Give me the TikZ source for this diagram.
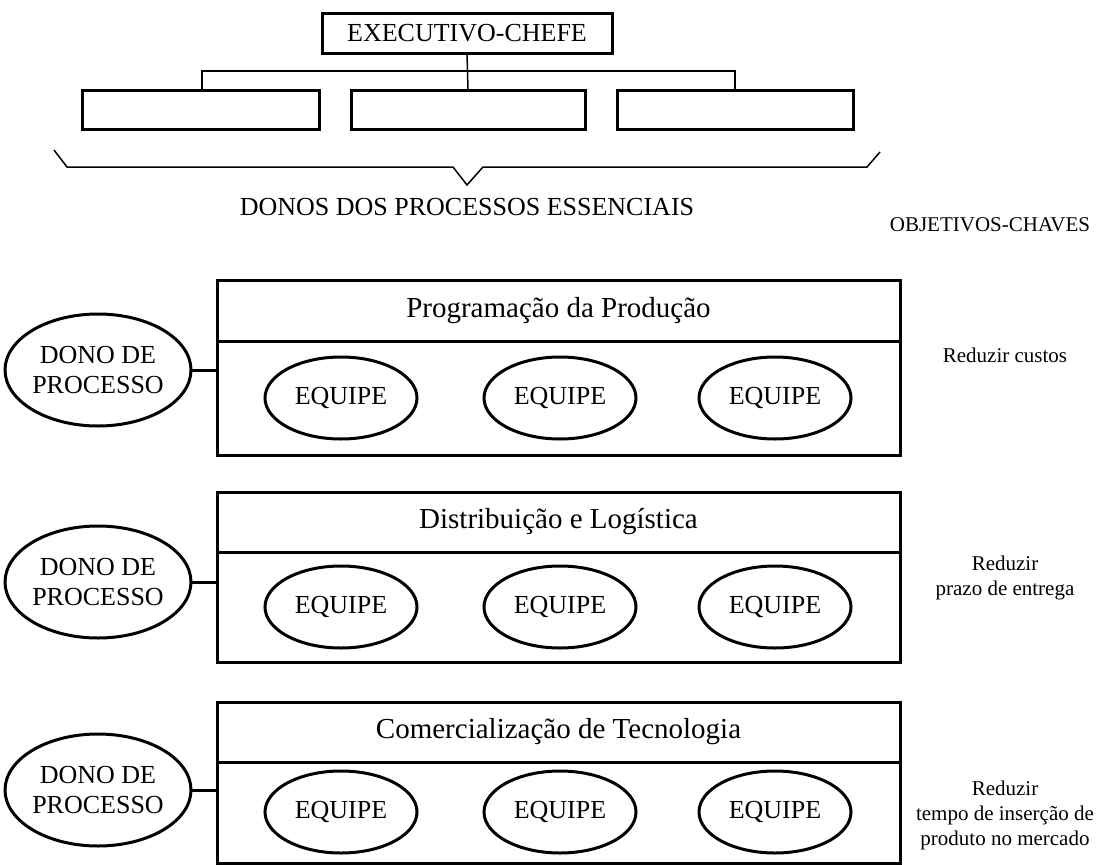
\documentclass[tikz,border=0pt]{standalone}
\usepackage{fontspec}
\setmainfont{Liberation Serif}
\usetikzlibrary{shapes.geometric}
\begin{document}
\begin{tikzpicture}[x=1pt,y=-1pt,
  orgbox/.style={draw,rectangle,line width=3pt,inner sep=0pt,outer sep=0pt,anchor=north west,font=\fontsize{26}{30}\selectfont},
  secbox/.style={draw,rectangle,line width=3pt,inner sep=0pt,outer sep=0pt,anchor=north west,minimum width=683pt,font=\fontsize{29}{33}\selectfont},
  owner/.style={draw,ellipse,line width=3pt,inner sep=0pt,outer sep=0pt,minimum width=173pt,minimum height=112pt,align=center,font=\fontsize{26}{30}\selectfont},
  team/.style={draw,ellipse,line width=3pt,inner sep=0pt,outer sep=0pt,minimum width=152pt,minimum height=82pt,font=\fontsize{26}{30}\selectfont},
  goal/.style={align=center,inner sep=0pt,font=\fontsize{21}{25}\selectfont},
  thinline/.style={line width=1.5pt},
  link/.style={line width=3pt}]
\useasboundingbox (0,0) rectangle (1117,865);
% org chart
\node[orgbox,minimum width=290pt,minimum height=40pt] (exec) at (322,13) {EXECUTIVO-CHEFE};
\node[orgbox,minimum width=237pt,minimum height=39pt] (p1) at (82,90) {};
\node[orgbox,minimum width=234pt,minimum height=39pt] (p2) at (351,90) {};
\node[orgbox,minimum width=236pt,minimum height=39pt] (p3) at (617,90) {};
\coordinate (hl) at (202,71);
\coordinate (hr) at (735,71);
\draw[thinline] (exec.south) -- (p2.north);
\draw[thinline] (hl |- p1.north) -- (hl) -- (hr) -- (hr |- p3.north);
% brace
\draw[thinline,line join=miter] (54,150) -- (67,167) -- (453,167) -- (467,185) -- (483,167) -- (867,167) -- (880,152);
\node[inner sep=0pt,font=\fontsize{26}{30}\selectfont] (donos) at (467,207) {DONOS DOS PROCESSOS ESSENCIAIS};
\node[goal] (obj) at (990,225) {OBJETIVOS-CHAVES};
% section 1
\node[secbox,minimum height=61pt] (h1) at (217,280) {Programação da Produção};
\node[secbox,minimum height=114pt] (b1) at (217,341) {};
\node[owner] (d1) at (98,370) {DONO DE\\PROCESSO};
\draw[link] (d1.east) -- (d1.east -| b1.west);
\node[team] (e11) at (341,398) {EQUIPE};
\node[team] (e12) at (560,398) {EQUIPE};
\node[team] (e13) at (775,398) {EQUIPE};
\node[goal] (g1) at (1005,355) {Reduzir custos};
% section 2
\node[secbox,minimum height=60pt] (h2) at (217,492) {Distribuição e Logística};
\node[secbox,minimum height=110pt] (b2) at (217,552) {};
\node[owner] (d2) at (98,582) {DONO DE\\PROCESSO};
\draw[link] (d2.east) -- (d2.east -| b2.west);
\node[team] (e21) at (341,607) {EQUIPE};
\node[team] (e22) at (560,607) {EQUIPE};
\node[team] (e23) at (775,607) {EQUIPE};
\node[goal] (g2) at (1005,578) {Reduzir\\prazo de entrega};
% section 3
\node[secbox,minimum height=60pt] (h3) at (217,702) {Comercialização de Tecnologia};
\node[secbox,minimum height=101pt] (b3) at (217,762) {};
\node[owner] (d3) at (98,790) {DONO DE\\PROCESSO};
\draw[link] (d3.east) -- (d3.east -| b3.west);
\node[team] (e31) at (341,812) {EQUIPE};
\node[team] (e32) at (560,812) {EQUIPE};
\node[team] (e33) at (775,812) {EQUIPE};
\node[goal] (g3) at (1005,815) {Reduzir\\tempo de inserção de\\produto no mercado};
\end{tikzpicture}
\end{document}
